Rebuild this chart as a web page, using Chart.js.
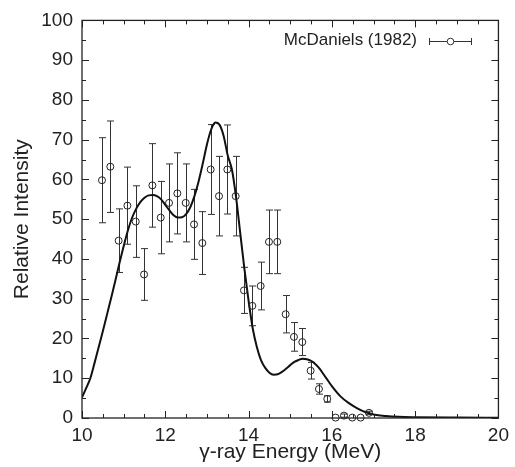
<!DOCTYPE html>
<html>
<head>
<meta charset="utf-8">
<script src="https://cdn.jsdelivr.net/npm/chart.js@4.4.1/dist/chart.umd.min.js"></script>
<style>
  html, body { margin: 0; padding: 0; background: #fff; }
  #wrap { width: 515px; height: 467px; }
</style>
</head>
<body>
<div id="wrap"><canvas id="c" width="515" height="467"></canvas></div>
<script>
// Measured spectrum: gamma-ray energy (MeV), relative intensity, and its uncertainty
const energy = [10.48, 10.68, 10.88, 11.09, 11.29, 11.49, 11.69, 11.89, 12.09, 12.29,
                12.49, 12.69, 12.89, 13.09, 13.29, 13.49, 13.69, 13.89, 14.09, 14.29,
                14.49, 14.69, 14.89, 15.09, 15.29, 15.49, 15.69, 15.89, 16.09, 16.29,
                16.49, 16.69, 16.89];
const intensity = [59.8, 63.2, 44.6, 53.4, 49.4, 36.1, 58.5, 50.4, 54.1, 56.5,
                   54.1, 48.7, 44.0, 62.5, 55.8, 62.5, 55.8, 32.1, 28.2, 33.2,
                   44.3, 44.3, 26.1, 20.4, 19.1, 11.9, 7.3, 4.8, 0.1, 0.6,
                   0.1, 0.1, 1.3];
const uncertainty = [10.7, 11.5, 8.0, 9.7, 9.0, 6.5, 10.5, 9.1, 9.8, 10.2,
                     9.8, 8.8, 7.9, 11.3, 10.0, 11.2, 10.0, 5.8, 5.0, 6.0,
                     8.0, 8.0, 4.7, 3.6, 3.4, 2.1, 1.3, 0.8, 0.0, 0.4,
                     0.0, 0.0, 0.4];

// Calculated spectrum (solid curve)
const fitEnergy = [10.0, 10.1, 10.2, 10.3, 10.4, 10.5, 10.6, 10.7, 10.8, 10.9,
                   11.0, 11.1, 11.2, 11.3, 11.4, 11.5, 11.6, 11.7, 11.8, 11.9,
                   12.0, 12.1, 12.2, 12.3, 12.4, 12.5, 12.6, 12.7, 12.8, 12.9,
                   13.0, 13.1, 13.2, 13.3, 13.4, 13.5, 13.6, 13.7, 13.8, 13.9,
                   14.0, 14.1, 14.2, 14.3, 14.4, 14.5, 14.6, 14.7, 14.8, 14.9,
                   15.0, 15.1, 15.2, 15.3, 15.4, 15.5, 15.6, 15.7, 15.8, 15.9,
                   16.0, 16.2, 16.4, 16.6, 16.8, 17.0, 17.3, 17.6, 18.0, 19.0, 20.0];
const fitIntensity = [5.2, 7.5, 10.0, 13.8, 17.8, 21.8, 26.0, 30.2, 34.5, 39.0,
                      43.2, 47.1, 50.3, 52.6, 54.3, 55.4, 56.0, 56.1, 55.8, 55.0,
                      53.6, 52.2, 51.0, 50.4, 50.5, 51.3, 53.0, 55.8, 59.5, 64.0,
                      68.8, 72.5, 74.3, 73.8, 71.0, 66.0, 62.5, 55.5, 46.5, 37.5,
                      29.5, 22.5, 17.8, 14.5, 12.6, 11.4, 10.9, 11.0, 11.6, 12.4,
                      13.3, 14.1, 14.6, 14.9, 14.8, 14.4, 13.6, 12.5, 11.0, 9.5,
                      8.0, 5.5, 3.8, 2.5, 1.5, 0.9, 0.5, 0.3, 0.2, 0.1, 0.05];

const xTicks = [10, 12, 14, 16, 18, 20];
const yTicks = [0, 10, 20, 30, 40, 50, 60, 70, 80, 90, 100];
const legendLabel = 'McDaniels (1982)';

const FONT = '"Liberation Sans", Arial, Helvetica, sans-serif';
const INK = '#222';

// Vertical error bars with caps, drawn under the hollow circles
const errorBars = {
  id: 'errorBars',
  beforeDatasetsDraw(chart) {
    const { ctx, scales: { x, y } } = chart;
    ctx.save();
    ctx.strokeStyle = '#333';
    ctx.lineWidth = 1;
    energy.forEach((e, i) => {
      const err = uncertainty[i];
      if (!err) return;
      const px = Math.round(x.getPixelForValue(e)) + 0.5;
      const top = y.getPixelForValue(intensity[i] + err);
      const bot = y.getPixelForValue(intensity[i] - err);
      ctx.beginPath();
      ctx.moveTo(px, top); ctx.lineTo(px, bot);
      ctx.moveTo(px - 3.5, top); ctx.lineTo(px + 3.5, top);
      ctx.moveTo(px - 3.5, bot); ctx.lineTo(px + 3.5, bot);
      ctx.stroke();
    });
    ctx.restore();
  }
};

// Box frame with inward major/minor ticks on all four sides, plus the legend
const frame = {
  id: 'frame',
  afterDraw(chart) {
    const { ctx, chartArea: a, scales: { x, y } } = chart;
    ctx.save();
    ctx.strokeStyle = INK;
    ctx.lineWidth = 1.3;
    ctx.strokeRect(a.left, a.top, a.right - a.left, a.bottom - a.top);
    ctx.lineWidth = 1;
    ctx.beginPath();
    for (let v = x.min; v <= x.max + 1e-9; v += 0.5) {
      const px = Math.round(x.getPixelForValue(v)) + 0.5;
      const len = Math.abs(v % 2) < 1e-6 ? 7 : 4;
      ctx.moveTo(px, a.bottom); ctx.lineTo(px, a.bottom - len);
      ctx.moveTo(px, a.top); ctx.lineTo(px, a.top + len);
    }
    for (let v = y.min; v <= y.max + 1e-9; v += 5) {
      const py = Math.round(y.getPixelForValue(v)) + 0.5;
      const len = Math.abs(v % 10) < 1e-6 ? 7 : 4;
      ctx.moveTo(a.left, py); ctx.lineTo(a.left + len, py);
      ctx.moveTo(a.right, py); ctx.lineTo(a.right - len, py);
    }
    ctx.stroke();

    // legend
    ctx.fillStyle = INK;
    ctx.font = '17px ' + FONT;
    ctx.textAlign = 'right';
    ctx.textBaseline = 'middle';
    ctx.fillText(legendLabel, 417, 40);
    const ly = 41.5, lx0 = 429.5, lx1 = 471.5, lc = 450.5;
    ctx.strokeStyle = '#333';
    ctx.beginPath();
    ctx.moveTo(lx0, ly); ctx.lineTo(lc - 3.3, ly);
    ctx.moveTo(lc + 3.3, ly); ctx.lineTo(lx1, ly);
    ctx.moveTo(lx0, ly - 3.5); ctx.lineTo(lx0, ly + 3.5);
    ctx.moveTo(lx1, ly - 3.5); ctx.lineTo(lx1, ly + 3.5);
    ctx.stroke();
    ctx.beginPath();
    ctx.arc(lc, ly, 3.3, 0, Math.PI * 2);
    ctx.stroke();
    ctx.restore();
  }
};

new Chart(document.getElementById('c'), {
  type: 'scatter',
  data: {
    datasets: [
      {
        label: 'fit',
        type: 'line',
        data: fitEnergy.map((e, i) => ({ x: e, y: fitIntensity[i] })),
        borderColor: '#111',
        borderWidth: 2,
        pointRadius: 0,
        fill: false,
        cubicInterpolationMode: 'monotone',
        order: 2
      },
      {
        label: legendLabel,
        data: energy.map((e, i) => ({ x: e, y: intensity[i] })),
        pointStyle: 'circle',
        pointRadius: 3.5,
        borderWidth: 1,
        borderColor: '#222',
        backgroundColor: 'rgba(0,0,0,0)',
        clip: false,
        order: 1
      }
    ]
  },
  options: {
    responsive: false,
    devicePixelRatio: 1,
    animation: false,
    events: [],
    layout: { padding: { top: 14, right: 13, left: 0, bottom: 0 } },
    plugins: { legend: { display: false }, tooltip: { enabled: false } },
    scales: {
      x: {
        type: 'linear',
        min: 10, max: 20,
        afterBuildTicks: s => { s.ticks = xTicks.map(v => ({ value: v })); },
        afterFit: s => { s.height = 49; },
        grid: { display: false, drawTicks: false },
        border: { display: false },
        ticks: { color: INK, font: { family: FONT, size: 19 }, padding: 6, maxRotation: 0, autoSkip: false },
        title: { display: true, text: 'γ-ray Energy (MeV)', color: INK,
                 font: { family: FONT, size: 21 }, padding: { top: 0, bottom: 2 } }
      },
      y: {
        type: 'linear',
        min: 0, max: 100,
        afterBuildTicks: s => { s.ticks = yTicks.map(v => ({ value: v })); },
        afterFit: s => { s.width = 82; },
        grid: { display: false, drawTicks: false },
        border: { display: false },
        ticks: { color: INK, font: { family: FONT, size: 19 }, padding: 9, autoSkip: false },
        title: { display: true, text: 'Relative Intensity', color: INK,
                 font: { family: FONT, size: 21 }, padding: { top: 10, bottom: 0 } }
      }
    }
  },
  plugins: [errorBars, frame]
});
</script>
</body>
</html>
